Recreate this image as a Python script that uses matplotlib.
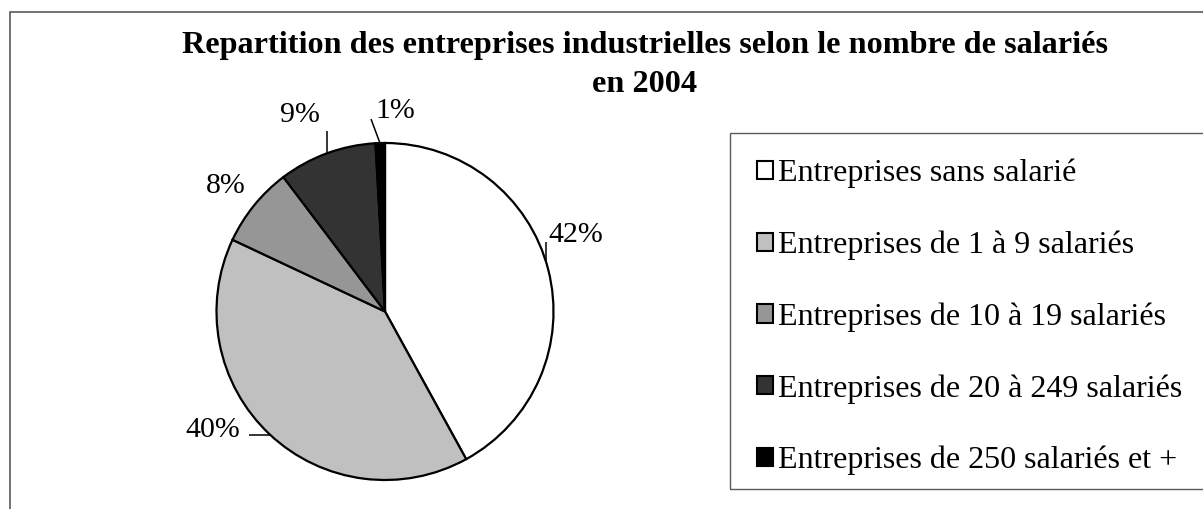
import matplotlib
matplotlib.use("Agg")
import matplotlib.pyplot as plt
from matplotlib.patches import Rectangle, Patch
import numpy as np

plt.rcParams['font.family'] = ['Liberation Serif', 'DejaVu Serif']

title = "Repartition des entreprises industrielles selon le nombre de salariés\nen 2004"
categories = ["Entreprises sans salarié",
              "Entreprises de 1 à 9 salariés",
              "Entreprises de 10 à 19 salariés",
              "Entreprises de 20 à 249 salariés",
              "Entreprises de 250 salariés et +"]
values = [42.0, 40.0, 7.7, 9.4, 0.9]
colors = ["#ffffff", "#c0c0c0", "#969696", "#333333", "#000000"]

W, H = 1203, 509
fig = plt.figure(figsize=(W / 100, H / 100), dpi=100)

# outer frame
fig.patches.append(Rectangle((10 / W, -0.1), 1.2, (H - 12) / H + 0.1,
                             transform=fig.transFigure, fill=False,
                             edgecolor="#5a5a5a", linewidth=1.2))

title_lines = title.split("\n")
fig.text(645 / W, 1 - 53 / H, title_lines[0],
         ha="center", va="baseline", fontsize=23.2, fontweight="bold")
fig.text(645 / W, 1 - 92 / H, title_lines[1],
         ha="center", va="baseline", fontsize=23.2, fontweight="bold")

# pie axes: center (385, 311.5) px, radius 168.5 px
R = 168.5
cx, cy = 385, H - 311.5
half = 1.5 * R
ax = fig.add_axes([(cx - half) / W, (cy - half) / H, 2 * half / W, 2 * half / H])
wedges, _ = ax.pie(values, colors=colors, startangle=90, counterclock=False, radius=1.0,
                   wedgeprops=dict(edgecolor="black", linewidth=1.6))
ax.set_xlim(-1.5, 1.5)
ax.set_ylim(-1.5, 1.5)
ax.set_aspect("equal")
ax.axis("off")

# labels (baseline positions in data units, chosen to match Excel placement)
label_pos = [(1.134, 0.412), (-1.024, -0.745), (-0.944, 0.703), (-0.504, 1.125), (0.059, 1.148)]
leaders = [((0.955, 0.30), (0.955, 0.41)),
           ((-0.675, -0.733), (-0.81, -0.733)),
           None,
           ((-0.344, 0.939), (-0.344, 1.07)),
           ((-0.03, 1.0), (-0.083, 1.142))]
for v, pos, ld in zip(values, label_pos, leaders):
    ax.text(pos[0], pos[1], "%.0f%%" % v, ha="center", va="baseline", fontsize=21.5)
    if ld is not None:
        ax.plot([ld[0][0], ld[1][0]], [ld[0][1], ld[1][1]], color="black", lw=1.1,
                solid_capstyle="butt", clip_on=False)

# legend frame
fig.patches.append(Rectangle((730 / W, 1 - 489 / H), 1.0, (489 - 133) / H,
                             transform=fig.transFigure, fill=False,
                             edgecolor="#5a5a5a", linewidth=1.0))
handles = [Patch(facecolor=c, edgecolor="black", linewidth=1.5) for c in colors]
fig.legend(handles, categories, loc="upper left", bbox_to_anchor=(757 / W, 1 - 159 / H),
           frameon=False, fontsize=23, handlelength=0.5, handleheight=0.5,
           handletextpad=0.15, labelspacing=1.32, borderpad=0, borderaxespad=0)

fig.savefig("out.png", dpi=100)
